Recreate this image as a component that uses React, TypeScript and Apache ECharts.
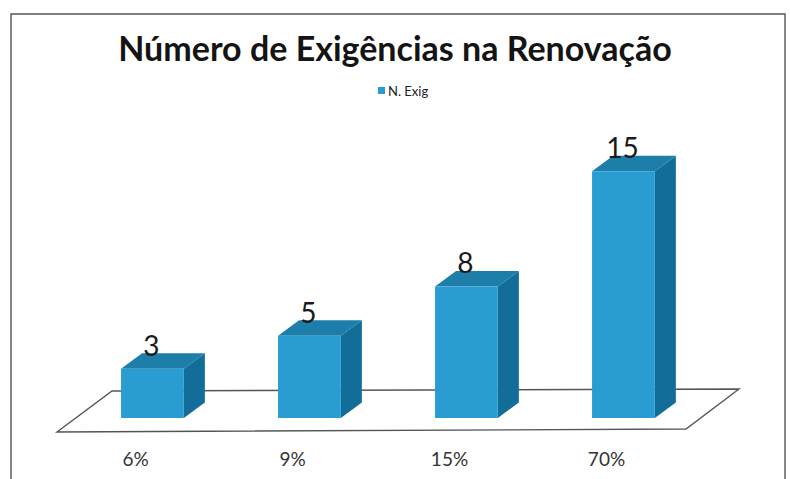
import React, { useEffect, useRef } from "react";
import * as echarts from "echarts";

const titleText = "Número de Exigências na Renovação";
const seriesName = "N. Exig";
const categories = ["6%", "9%", "15%", "70%"];
const values = [3, 5, 8, 15];

const FONT = "Lato, 'Open Sans', sans-serif";
const FRONT = "#299DD2";
const TOP = "#1C7EA9";
const SIDE = "#126E98";

function renderBar(_params: any, api: any) {
  const idx = api.value(0);
  const val = api.value(1);
  const band = api.size([1, 0])[0];
  const [cx, yTop] = api.coord([idx, val]);
  const [, yBase] = api.coord([idx, 0]);
  const w = band * 0.4;
  const left = cx + band * 0.108 - w / 2;
  const right = left + w;
  const dx = 21;
  const dy = 15.5;
  return {
    type: "group",
    children: [
      {
        type: "polygon",
        shape: { points: [[right, yTop], [right + dx, yTop - dy], [right + dx, yBase - dy], [right, yBase]] },
        style: { fill: SIDE },
      },
      {
        type: "polygon",
        shape: { points: [[left, yTop], [left + dx, yTop - dy], [right + dx, yTop - dy], [right, yTop]] },
        style: { fill: TOP },
      },
      {
        type: "rect",
        shape: { x: left, y: yTop, width: w, height: yBase - yTop },
        style: { fill: FRONT },
      },
      {
        type: "text",
        style: {
          x: left + w / 2 - 1,
          y: yTop - 24,
          text: String(val),
          fill: "#1a1a1a",
          font: `400 28px ${FONT}`,
          textAlign: "center",
          textVerticalAlign: "middle",
        },
      },
    ],
  };
}

function renderFloor(params: any) {
  const { x, y, height } = params.coordSys;
  const bottom = y + height;
  return {
    type: "polygon",
    shape: {
      points: [
        [x, bottom + 14],
        [x + 55, bottom - 27],
        [x + 682, bottom - 29],
        [x + 629, bottom + 11],
      ],
    },
    style: { fill: "#ffffff", stroke: "#555555", lineWidth: 1.4 },
    silent: true,
  };
}

export default function App() {
  const ref = useRef<HTMLDivElement>(null);
  useEffect(() => {
    document.body.style.margin = "0";
    const chart = echarts.init(ref.current!, undefined, { renderer: "svg" });
    chart.setOption({
      animation: false,
      backgroundColor: "#ffffff",
      title: {
        text: titleText,
        left: "center",
        top: 25,
        textStyle: { fontFamily: FONT, fontSize: 34, fontWeight: "bold", color: "#141414" },
      },
      legend: {
        data: [seriesName],
        left: 373,
        top: 79,
        itemWidth: 7,
        itemHeight: 7,
        itemGap: 4,
        icon: "rect",
        textStyle: { fontFamily: FONT, fontSize: 13, color: "#222222", padding: [0, 0, 0, -2] },
      },
      grid: { left: 57, top: 89, width: 628, height: 329 },
      xAxis: {
        type: "category",
        data: categories,
        axisLine: { show: false },
        axisTick: { show: false },
        axisLabel: { margin: 31, fontFamily: FONT, fontSize: 19, color: "#333333" },
      },
      yAxis: { type: "value", min: 0, max: 20, show: false, splitLine: { show: false } },
      graphic: [
        {
          type: "polyline",
          shape: { points: [[11, 490], [11, 14], [785, 14], [785, 490]] },
          style: { fill: "none", stroke: "#555555", lineWidth: 1.4 },
          silent: true,
          z: 1,
        },
      ],
      series: [
        {
          name: "floor",
          type: "custom",
          renderItem: renderFloor,
          data: [[0, 0]],
          encode: { x: 0, y: 1 },
          silent: true,
          z: 1,
        },
        {
          name: seriesName,
          type: "custom",
          renderItem: renderBar,
          itemStyle: { color: FRONT },
          data: values.map((v, i) => [i, v]),
          encode: { x: 0, y: 1 },
          z: 2,
        },
      ],
    });
    return () => chart.dispose();
  }, []);
  return <div ref={ref} style={{ width: 790, height: 479 }} />;
}
